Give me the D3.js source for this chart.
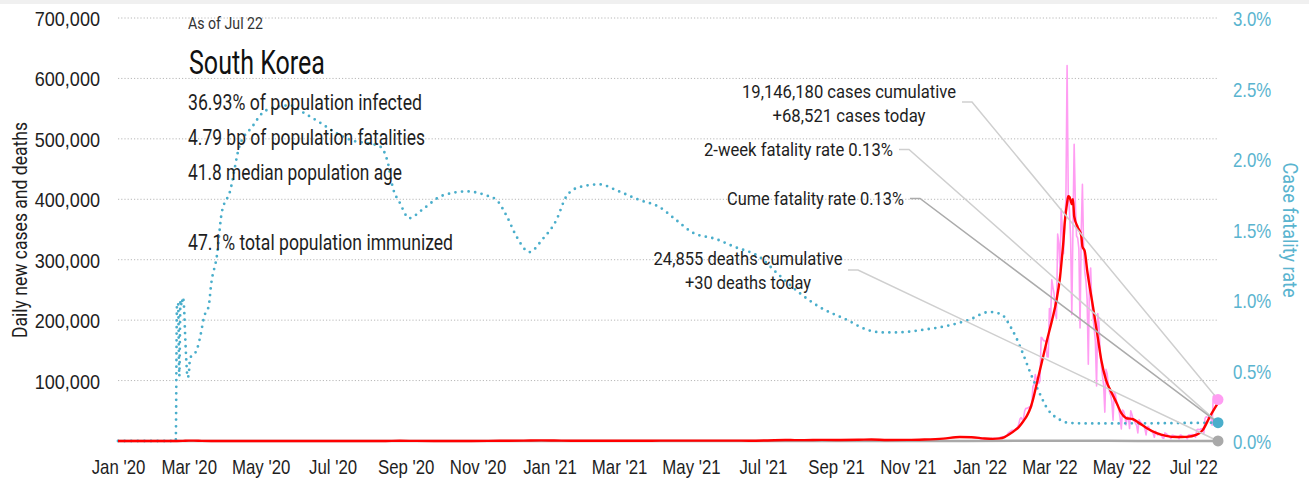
<!DOCTYPE html>
<html>
<head>
<meta charset="utf-8">
<script src="https://cdn.jsdelivr.net/npm/d3@7"></script>
<style>
  html, body { margin: 0; padding: 0; background: #fff; }
  svg { display: block; font-family: Roboto, "DejaVu Sans", sans-serif; }
</style>
</head>
<body>
<svg id="chart" width="1309" height="480"></svg>
<script>
// ---- Data -------------------------------------------------------------
const leftTicks = [100000, 200000, 300000, 400000, 500000, 600000, 700000];
const rightTicks = [0, 0.5, 1, 1.5, 2, 2.5, 3];
const xTickDates = ["2020-01-01", "2020-03-01", "2020-05-01", "2020-07-01", "2020-09-01", "2020-11-01",
  "2021-01-01", "2021-03-01", "2021-05-01", "2021-07-01", "2021-09-01", "2021-11-01",
  "2022-01-01", "2022-03-01", "2022-05-01", "2022-07-01"];

// Daily new cases, 2022 (one value per day, by month)
const casesJan22 = [3833,3129,4207,4444,4126,3717,3511,3376,3005,3097,4388,4167,4542,4197,4194,3857,4071,5804,6603,6769,7009,7630,7513,8571,13012,14518,16096,17542,17528,18342,19270];
const casesFeb22 = [20270,22907,27443,36362,38691,35286,36719,49567,54122,53926,54941,56431,54619,57177,90443,93135,109831,102211,104829,95362,99573,171452,170016,165890,166209,163566,139626,138993];
const casesMar22 = [219241,198803,266853,254327,243628,210716,202721,342446,327549,282987,383665,350190,309790,362338,400741,621328,407017,381454,334708,209169,354980,490881,395598,339514,335580,318130,187213,347554,424641,320743,280273];
const casesApr22 = [264171,234301,127190,266135,286294,224820,205333,185566,164481,90928,210755,195419,148443,125846,107916,93001,47743,118504,111319,90867,81058,75449,64725,34370,81595,76787,64354,57464,50568,37771];
const casesMay22 = [20084,51131,49064,42296,26714,40064,38570,20601,49933,43925,35906,32451,29581,25434,13296,35117,32057,29836,26375,25125,20319,9975,23956,23945,18816,16584,15797,12654,6141,15967,13358];
const casesJun22 = [9896,12539,10060,9830,5022,4575,13358,12173,10463,8439,7382,3822,9437,9305,8436,7994,7198,6068,3423,9855,9310,7498,7224,6250,6044,3425,9894,10463,9595,10715];
const casesJul22 = [10059,9528,6253,18147,19371,18511,19323,20286,20410,12693,37360,40266,39196,38882,41310,40342,26299,73582,76402,71170,68632,68521];

// 7-day average of new cases [date, value]
const avgCases = [
  ["2020-01-01",0],["2020-02-15",2],["2020-02-20",30],["2020-02-25",200],["2020-03-01",550],["2020-03-05",560],
  ["2020-03-12",250],["2020-03-20",110],["2020-04-01",100],["2020-04-15",30],["2020-05-01",8],["2020-05-15",20],
  ["2020-06-01",45],["2020-06-15",45],["2020-07-01",50],["2020-07-15",45],["2020-08-01",30],["2020-08-15",120],
  ["2020-08-27",370],["2020-09-10",160],["2020-09-25",80],["2020-10-10",70],["2020-10-25",90],["2020-11-10",130],
  ["2020-11-25",420],["2020-12-10",650],["2020-12-25",1050],["2021-01-05",850],["2021-01-20",450],["2021-02-05",380],
  ["2021-02-20",500],["2021-03-05",400],["2021-03-20",450],["2021-04-05",550],["2021-04-20",650],["2021-05-05",600],
  ["2021-05-20",600],["2021-06-05",600],["2021-06-20",500],["2021-07-05",900],["2021-07-20",1550],["2021-08-05",1500],
  ["2021-08-20",1900],["2021-09-05",1750],["2021-09-20",2000],["2021-10-01",2600],["2021-10-15",1700],["2021-11-01",1800],
  ["2021-11-15",2500],["2021-12-01",4000],["2021-12-15",6500],["2021-12-25",6300],["2022-01-05",4200],["2022-01-12",3600],
  ["2022-01-18",4300],["2022-01-22",6500],["2022-01-26",11000],["2022-01-31",18000],["2022-02-03",23000],["2022-02-07",33000],
  ["2022-02-10",42000],["2022-02-13",55000],["2022-02-15",68000],["2022-02-19",101000],["2022-02-23",134000],["2022-02-27",167000],
  ["2022-03-03",198000],["2022-03-07",233000],["2022-03-10",271000],["2022-03-12",311000],["2022-03-13",333000],["2022-03-14",361000],
  ["2022-03-16",394000],["2022-03-17",405000],["2022-03-18",404000],["2022-03-19",398000],["2022-03-20",392000],["2022-03-21",400000],
  ["2022-03-22",372000],["2022-03-25",354000],["2022-03-28",340000],["2022-03-29",322000],["2022-03-31",314000],["2022-04-02",283000],
  ["2022-04-07",222000],["2022-04-11",172000],["2022-04-14",134000],["2022-04-18",101000],["2022-04-23",79000],["2022-04-27",63000],
  ["2022-05-01",46000],["2022-05-05",38000],["2022-05-11",36000],["2022-05-16",30000],["2022-05-22",22000],["2022-05-31",13000],
  ["2022-06-08",8500],["2022-06-17",6500],["2022-06-25",6800],["2022-07-04",10500],["2022-07-09",18000],["2022-07-15",40000],
  ["2022-07-22",63000]
];

// Daily deaths [date, value]
const dailyDeaths = [
  ["2020-01-01",0],["2020-03-01",4],["2020-09-01",4],["2020-12-25",20],["2021-01-10",22],["2021-06-01",3],
  ["2021-12-20",70],["2022-03-25",360],["2022-05-15",40],["2022-06-20",8],["2022-07-22",30]
];

// Case fatality rate, percent [date, value]
const fatalityRate = [
  ["2020-01-01",0],["2020-02-19",0],["2020-02-20",0.96],["2020-02-21",0.98],["2020-02-22",0.46],["2020-02-23",1.0],
  ["2020-02-24",0.96],["2020-02-25",1.02],["2020-02-26",0.95],["2020-02-27",0.74],["2020-02-28",0.56],["2020-02-29",0.45],
  ["2020-03-01",0.47],["2020-03-02",0.58],["2020-03-04",0.61],["2020-03-06",0.62],["2020-03-08",0.65],["2020-03-11",0.75],
  ["2020-03-14",0.88],["2020-03-18",0.96],["2020-03-20",1.11],["2020-03-25",1.32],["2020-03-29",1.62],["2020-04-05",1.77],
  ["2020-04-13",2.09],["2020-04-24",2.23],["2020-05-03",2.33],["2020-05-15",2.37],["2020-05-26",2.38],["2020-06-06",2.33],
  ["2020-06-20",2.26],["2020-07-05",2.18],["2020-07-18",2.13],["2020-08-01",2.11],["2020-08-10",2.09],["2020-08-17",1.97],
  ["2020-08-21",1.80],["2020-08-27",1.69],["2020-09-04",1.58],["2020-09-15",1.64],["2020-10-02",1.74],["2020-10-23",1.77],
  ["2020-11-09",1.74],["2020-11-17",1.71],["2020-11-26",1.59],["2020-12-04",1.45],["2020-12-15",1.34],["2020-12-26",1.43],
  ["2021-01-07",1.57],["2021-01-15",1.73],["2021-01-26",1.80],["2021-02-12",1.82],["2021-03-01",1.77],["2021-03-18",1.71],
  ["2021-04-04",1.66],["2021-04-18",1.57],["2021-05-02",1.48],["2021-05-23",1.43],["2021-06-06",1.38],["2021-06-29",1.30],
  ["2021-07-13",1.19],["2021-08-01",1.05],["2021-08-18",0.95],["2021-09-10",0.86],["2021-09-27",0.79],["2021-10-10",0.77],
  ["2021-10-22",0.77],["2021-11-15",0.79],["2021-12-06",0.82],["2021-12-23",0.86],["2022-01-09",0.915],["2022-01-19",0.90],
  ["2022-01-27",0.81],["2022-02-01",0.73],["2022-02-07",0.61],["2022-02-13",0.48],["2022-02-20",0.35],["2022-02-28",0.22],
  ["2022-03-06",0.17],["2022-03-10",0.15],["2022-03-16",0.13],["2022-03-29",0.125],["2022-05-01",0.125],["2022-07-22",0.13]
];

const infoLines = [
  "36.93% of population infected",
  "4.79 bp of population fatalities",
  "41.8 median population age",
  "",
  "47.1% total population immunized"
];

const casesToday = 68521, deathsToday = 30, cfrToday = 0.13;

// ---- Setup -------------------------------------------------------------
const parse = d3.utcParse("%Y-%m-%d");
const startDate = parse("2022-01-01");
const daily2022 = [].concat(casesJan22, casesFeb22, casesMar22, casesApr22, casesMay22, casesJun22, casesJul22)
  .map((v, i) => [d3.utcDay.offset(startDate, i), v]);
const avgSeries = avgCases.map(d => [parse(d[0]), d[1]]);
const deathSeries = dailyDeaths.map(d => [parse(d[0]), d[1]]);
const cfrSeries = fatalityRate.map(d => [parse(d[0]), d[1]]);
const lastDate = parse("2022-07-22");

const svg = d3.select("#chart");
const W = 1309, H = 480;
const margin = { left: 118, right: 1309 - 1218, top: 18, bottom: 480 - 441 };

const x = d3.scaleUtc().domain([parse("2020-01-01"), lastDate]).range([margin.left, W - margin.right]);
const yL = d3.scaleLinear().domain([0, 700000]).range([H - margin.bottom, margin.top]);
const yR = d3.scaleLinear().domain([0, 3]).range([H - margin.bottom, margin.top]);

const teal = "#4aaecb";
const tealText = "#5ab4cf";
const ink = "#1e1e1e";

// Narrow the glyphs of a text selection by factor k (condensed look).
function squeeze(sel, k) {
  sel.each(function () {
    const w = this.getComputedTextLength();
    d3.select(this).attr("textLength", w * k).attr("lengthAdjust", "spacingAndGlyphs");
  });
}
// Squeeze a single text to an exact width.
function fit(sel, width) {
  sel.attr("textLength", width).attr("lengthAdjust", "spacingAndGlyphs");
}

// light strip along the top edge
svg.append("rect").attr("x", 0).attr("y", 0).attr("width", W).attr("height", 4).attr("fill", "#f0f0f0");

// horizontal dotted gridlines
svg.append("g").selectAll("line").data(leftTicks).join("line")
  .attr("x1", x.range()[0]).attr("x2", x.range()[1])
  .attr("y1", d => yL(d)).attr("y2", d => yL(d))
  .attr("stroke", "#b8b8b8").attr("stroke-width", 1).attr("stroke-dasharray", "1.2 2");

// left axis
const gL = svg.append("g").attr("transform", `translate(${margin.left},0)`)
  .call(d3.axisLeft(yL).tickValues(leftTicks).tickFormat(d3.format(",")).tickSize(0).tickPadding(18));
gL.select(".domain").remove();
gL.selectAll("text").attr("font-size", 21).attr("fill", ink).attr("font-family", null).attr("dy", "0.36em");
squeeze(gL.selectAll("text"), 0.86);

// right axis
const gR = svg.append("g").attr("transform", `translate(${W - margin.right},0)`)
  .call(d3.axisRight(yR).tickValues(rightTicks).tickFormat(d => d.toFixed(1) + "%").tickSize(0).tickPadding(15));
gR.select(".domain").remove();
gR.selectAll("text").attr("font-size", 21).attr("fill", tealText).attr("font-family", null).attr("dy", "0.36em");
squeeze(gR.selectAll("text"), 0.8);

// bottom axis
const gB = svg.append("g").attr("transform", `translate(0,${H - margin.bottom})`)
  .call(d3.axisBottom(x).tickValues(xTickDates.map(parse)).tickFormat(d3.utcFormat("%b '%y")).tickSize(0).tickPadding(0));
gB.select(".domain").remove();
gB.selectAll("text").attr("font-size", 21).attr("fill", ink).attr("font-family", null).attr("dy", null).attr("y", 33);
squeeze(gB.selectAll("text"), 0.8);

// axis titles
svg.append("text").attr("transform", "translate(27,230) rotate(-90)")
  .attr("text-anchor", "middle").attr("font-size", 20).attr("fill", ink)
  .text("Daily new cases and deaths").call(fit, 216);
svg.append("text").attr("transform", "translate(1283,230) rotate(90)")
  .attr("text-anchor", "middle").attr("font-size", 20).attr("fill", tealText)
  .text("Case fatality rate").call(fit, 135);

// ---- Series ------------------------------------------------------------
const lineL = d3.line().x(d => x(d[0])).y(d => yL(d[1]));
const lineSmooth = d3.line().x(d => x(d[0])).y(d => yL(d[1])).curve(d3.curveMonotoneX);
const lineR = d3.line().x(d => x(d[0])).y(d => yR(d[1])).curve(d3.curveMonotoneX);

// daily deaths (grey)
svg.append("path").datum(deathSeries).attr("d", lineSmooth)
  .attr("fill", "none").attr("stroke", "#a9a9a9").attr("stroke-width", 2.5);

// daily cases (pink)
svg.append("path").datum(daily2022).attr("d", lineL)
  .attr("fill", "none").attr("stroke", "#ff9df2").attr("stroke-width", 1.6).attr("stroke-linejoin", "round");

// case fatality rate (dotted teal)
svg.append("path").datum(cfrSeries).attr("d", lineR)
  .attr("fill", "none").attr("stroke", teal).attr("stroke-width", 2.8)
  .attr("stroke-linecap", "round").attr("stroke-dasharray", "0 6.6");

// 7-day average cases (red)
svg.append("path").datum(avgSeries).attr("d", lineSmooth)
  .attr("fill", "none").attr("stroke", "#ff0000").attr("stroke-width", 2.4).attr("stroke-linejoin", "round");

// ---- Annotations ---------------------------------------------------------
const ex = x(lastDate);
const endPink = [ex, yL(casesToday)];
const endTeal = [ex, yR(cfrToday)];
const endGrey = [ex, yL(deathsToday)];

const notes = [
  { lines: [["19,146,180 cases cumulative", 214], ["+68,521 cases today", 153]], anchor: "middle", tx: 849, base: 98, right: 956, mid: 102, end: endPink, stroke: "#cfcfcf" },
  { lines: [["2-week fatality rate 0.13%", 189]], anchor: "end", tx: 893, base: 156, right: 893, mid: 149.5, end: endTeal, stroke: "#cfcfcf" },
  { lines: [["Cume fatality rate 0.13%", 177]], anchor: "end", tx: 904, base: 205, right: 904, mid: 198.5, end: endTeal, stroke: "#ababab" },
  { lines: [["24,855 deaths cumulative", 189], ["+30 deaths today", 126]], anchor: "middle", tx: 748, base: 265, right: 842, mid: 270, end: endGrey, stroke: "#cfcfcf" }
];

const gN = svg.append("g");
notes.forEach(n => {
  gN.append("polyline")
    .attr("points", [[n.right + 6, n.mid], [n.right + 16, n.mid], n.end].map(p => p.join(",")).join(" "))
    .attr("fill", "none").attr("stroke", n.stroke).attr("stroke-width", 1.5);
});
notes.forEach(n => {
  n.lines.forEach(([s, w], i) => {
    gN.append("text").attr("text-anchor", n.anchor).attr("font-size", 19).attr("fill", ink)
      .attr("x", n.tx).attr("y", n.base + i * 23.5).text(s).call(fit, w);
  });
});

// end markers
svg.append("circle").attr("cx", endPink[0]).attr("cy", endPink[1]).attr("r", 5.5).attr("fill", "#ff9df2");
svg.append("circle").attr("cx", endTeal[0]).attr("cy", endTeal[1]).attr("r", 5.5).attr("fill", teal);
svg.append("circle").attr("cx", endGrey[0]).attr("cy", endGrey[1]).attr("r", 5.5).attr("fill", "#a9a9a9");

// ---- Header text -----------------------------------------------------------
svg.append("text").attr("x", 188).attr("y", 29).attr("font-size", 17).attr("fill", "#333")
  .text("As of Jul 22").call(fit, 75);
svg.append("text").attr("x", 189).attr("y", 74).attr("font-size", 33).attr("fill", "#111")
  .text("South Korea").call(fit, 136);
const infoWidths = [234, 237, 214, 0, 265];
svg.append("g").selectAll("text").data(infoLines).join("text")
  .attr("x", 188).attr("y", (d, i) => 110 + i * 35)
  .attr("font-size", 22).attr("fill", ink).text(d => d)
  .each(function (d, i) { if (d) fit(d3.select(this), infoWidths[i]); });
</script>
</body>
</html>
